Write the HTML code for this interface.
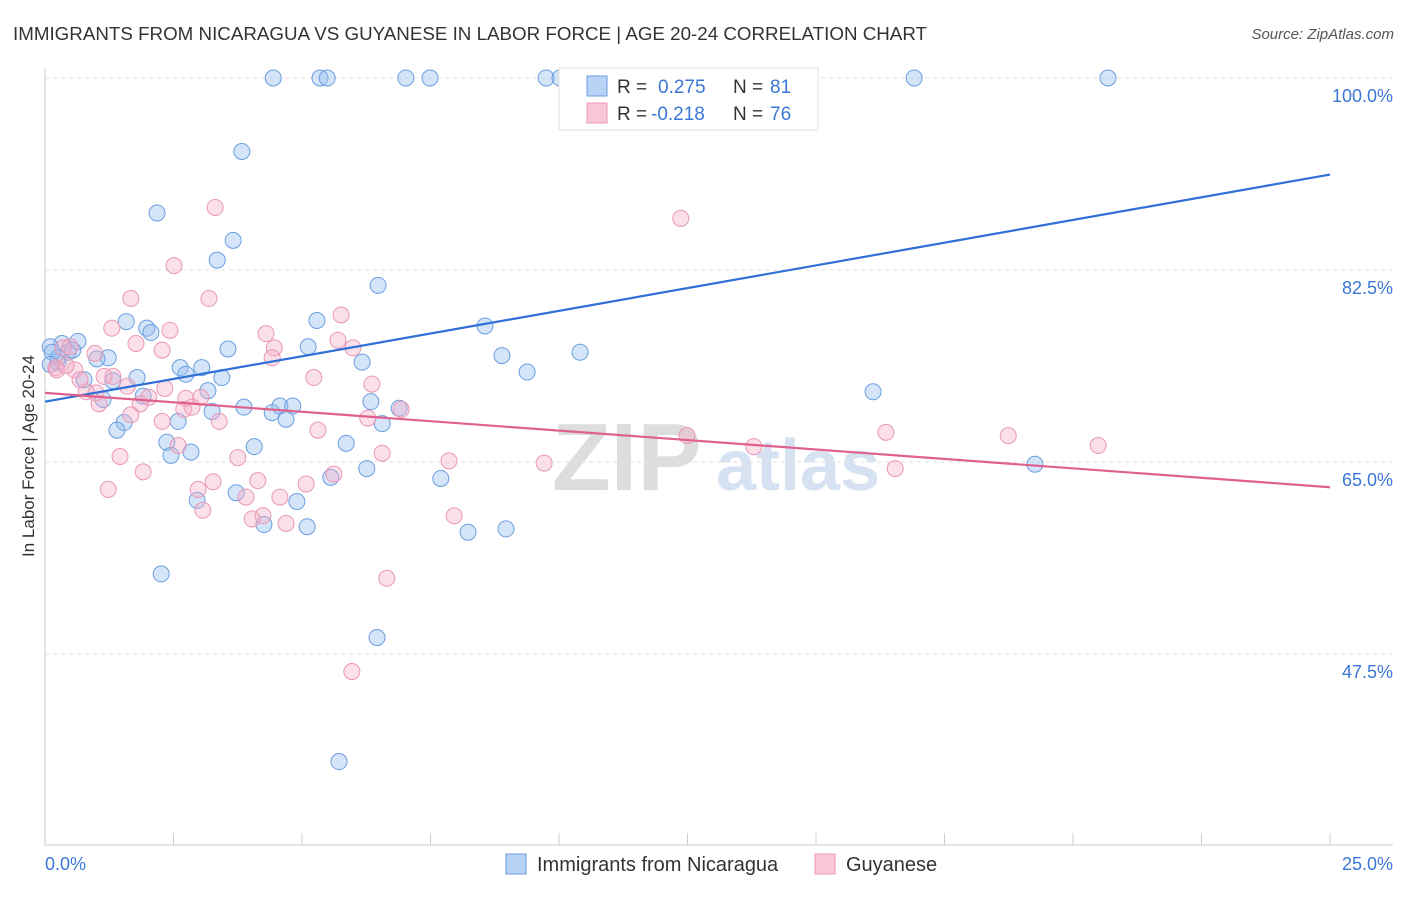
<!DOCTYPE html>
<html><head><meta charset="utf-8">
<style>
body{margin:0;background:#fff;font-family:"Liberation Sans",sans-serif;}
svg text{font-family:"Liberation Sans",sans-serif;}
</style></head>
<body>
<svg id="chart" width="1406" height="892" xmlns="http://www.w3.org/2000/svg">
<text x="13" y="40" font-size="18" fill="#333" textLength="914" lengthAdjust="spacingAndGlyphs">IMMIGRANTS FROM NICARAGUA VS GUYANESE IN LABOR FORCE | AGE 20-24 CORRELATION CHART</text>
<text x="1394" y="39" font-size="15" fill="#555" text-anchor="end" font-style="italic">Source: ZipAtlas.com</text>
<text transform="translate(34,456) rotate(-90)" font-size="17" fill="#333" text-anchor="middle">In Labor Force | Age 20-24</text>
<g>
<text x="552" y="490" font-size="96" fill="#ddd" font-family="Liberation Serif" font-weight="bold">ZIP</text>
<text x="716" y="490" font-size="72" fill="#d6e2f2" font-weight="bold">atlas</text>
</g>
<g id="grid"></g>
<g id="axes"></g>
<g id="pts"></g>
<g id="lines"></g>
<g>
<rect x="559" y="68" width="259" height="62" fill="#fff" stroke="#ddd"/>
<rect x="587" y="76" width="20" height="20" fill="#b8d2f3" stroke="#6a9ee0"/>
<text x="617" y="93" font-size="19" fill="#333">R = </text><text x="658" y="93" font-size="19" fill="#3b77d6">0.275</text>
<text x="733" y="93" font-size="19" fill="#333">N = </text><text x="770" y="93" font-size="19" fill="#3b77d6">81</text>
<rect x="587" y="103" width="20" height="20" fill="#f8c8d8" stroke="#e898b5"/>
<text x="617" y="120" font-size="19" fill="#333">R = </text><text x="651" y="120" font-size="19" fill="#3b77d6">-0.218</text>
<text x="733" y="120" font-size="19" fill="#333">N = </text><text x="770" y="120" font-size="19" fill="#3b77d6">76</text>
</g>
<g>
<rect x="506" y="854" width="20" height="20" fill="#b8d2f3" stroke="#6a9ee0"/>
<text x="537" y="871" font-size="20" fill="#333">Immigrants from Nicaragua</text>
<rect x="815" y="854" width="20" height="20" fill="#f8c8d8" stroke="#e898b5"/>
<text x="846" y="871" font-size="20" fill="#333">Guyanese</text>
</g>
</svg>
<script>
const blueX=[4.44,5.35,5.49,7.02,7.49,9.75,10.02,16.91,20.68,3.83,2.18,3.66,3.35,6.48,1.58,5.29,1.98,2.06,8.56,0.64,0.33,0.10,3.56,5.12,10.41,8.89,1.23,1.01,0.45,0.25,6.17,2.63,3.05,2.74,9.38,3.44,1.79,0.76,1.32,3.17,1.91,1.13,16.11,6.34,3.87,3.25,6.89,4.42,4.57,4.82,4.69,6.56,2.59,1.54,1.40,2.37,5.86,4.07,2.45,2.84,6.26,7.70,5.56,19.26,3.72,2.96,4.90,4.26,5.10,8.23,8.97,2.26,6.46,5.72,0.25,0.14,0.10,0.54];
const blueY=[100,100,100,100,100,100,100,100,100,93.3,87.7,85.2,83.4,81.1,77.8,77.9,77.2,76.8,77.4,76.0,75.8,75.5,75.3,75.5,75.0,74.7,74.5,74.4,75.0,74.1,74.1,73.6,73.6,73.0,73.2,72.7,72.7,72.5,72.4,71.5,71.0,70.7,71.4,70.5,70.0,69.6,69.9,69.5,70.1,70.1,68.9,68.5,68.7,68.6,67.9,66.8,66.7,66.4,65.6,65.9,64.4,63.5,63.6,64.8,62.2,61.5,61.4,59.3,59.1,58.6,58.9,54.8,49.0,37.7,74.5,75.0,73.9,75.2];
const pinkX=[3.31,12.37,2.51,1.67,3.19,5.76,1.30,2.43,4.30,5.70,1.77,5.99,4.46,2.28,0.97,0.49,4.42,0.21,0.58,1.32,1.15,5.23,6.36,2.33,1.60,0.80,0.99,2.74,2.02,3.03,1.85,1.05,2.70,2.86,6.93,1.67,2.28,3.39,6.28,5.31,12.49,16.36,18.74,20.49,13.79,2.59,3.75,1.46,6.56,7.86,9.71,5.62,16.54,1.91,4.14,3.27,1.23,2.98,4.57,5.08,3.91,3.07,7.96,4.24,4.03,4.69,6.65,5.97,0.23,0.35,0.41,0.68];
const pinkY=[88.2,87.2,82.9,79.9,79.9,78.4,77.2,77.0,76.7,76.1,75.8,75.4,75.4,75.2,74.9,75.5,74.5,73.6,73.4,72.8,72.8,72.7,72.1,71.7,71.9,71.4,71.3,70.8,70.9,70.9,70.3,70.3,69.8,70.0,69.8,69.3,68.7,68.7,69.0,67.9,67.4,67.7,67.4,66.5,66.4,66.5,65.4,65.5,65.8,65.1,64.9,63.9,64.4,64.1,63.3,63.2,62.5,62.5,61.8,63.0,61.8,60.6,60.1,60.1,59.8,59.4,54.4,45.9,73.4,75.4,73.8,72.5];
const blueTrend=[70.5,91.2];
const pinkTrend=[71.3,62.7];
const yTicks=[100,82.5,65,47.5];
const yTickLabels=["100.0%","82.5%","65.0%","47.5%"];
const xTicks=[0,2.5,5,7.5,10,12.5,15,17.5,20,22.5,25];

const NS="http://www.w3.org/2000/svg";
const X=v=>45+v/25*1285;
const Y=v=>462-(v-65)*192/17.5;
function mk(tag,attrs,parent){const e=document.createElementNS(NS,tag);for(const k in attrs)e.setAttribute(k,attrs[k]);parent.appendChild(e);return e;}
const grid=document.getElementById('grid'),axes=document.getElementById('axes'),pts=document.getElementById('pts'),lines=document.getElementById('lines');
yTicks.forEach((t,i)=>{
 const l=mk('line',{x1:45,x2:1393,y1:Y(t),y2:Y(t),stroke:'#e2e2e2','stroke-dasharray':'4,4'},grid);
 
 
 const tx=mk('text',{x:1393,y:Y(t)+24,'font-size':18,fill:'#3b77d6','text-anchor':'end'},grid);
 tx.textContent=yTickLabels[i];
 
 
});
const ax=mk('line',{x1:45,x2:1393,y1:845,y2:845,stroke:'#ccc'},axes);


const ay=mk('line',{x1:45,x2:45,y1:68,y2:845,stroke:'#ccc'},axes);


xTicks.forEach(t=>{
 const l=mk('line',{x1:X(t),x2:X(t),y1:833,y2:845,stroke:'#ccc'},axes);
 
 
});
const x0=mk('text',{x:45,y:870,'font-size':18,fill:'#3b77d6'},axes);x0.textContent='0.0%';


const x1=mk('text',{x:1393,y:870,'font-size':18,fill:'#3b77d6','text-anchor':'end'},axes);x1.textContent='25.0%';


blueX.forEach((v,i)=>{
 const c=mk('circle',{cx:X(v),cy:Y(blueY[i]),r:8,fill:'rgba(150,190,240,0.4)',stroke:'#6a9ee0','stroke-width':1},pts);
 
 
});
pinkX.forEach((v,i)=>{
 const c=mk('circle',{cx:X(v),cy:Y(pinkY[i]),r:8,fill:'rgba(245,175,200,0.4)',stroke:'#e898b5','stroke-width':1},pts);
 
 
});
const bl=mk('line',{x1:X(0),x2:X(25),y1:Y(blueTrend[0]),y2:Y(blueTrend[1]),stroke:'#2f6fd6','stroke-width':2.2},lines);


const pl=mk('line',{x1:X(0),x2:X(25),y1:Y(pinkTrend[0]),y2:Y(pinkTrend[1]),stroke:'#e0608c','stroke-width':2.2},lines);


</script>
</body></html>
